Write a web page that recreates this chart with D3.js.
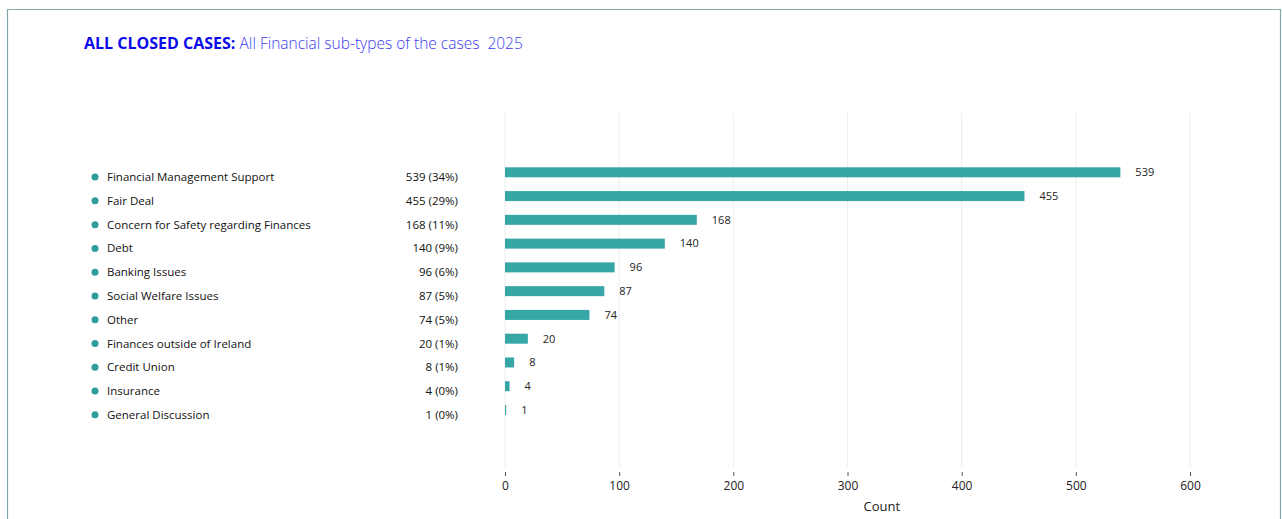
<!DOCTYPE html>
<html>
<head>
<meta charset="utf-8">
<script src="https://cdn.jsdelivr.net/npm/d3@7"></script>
<style>
  html, body { margin: 0; padding: 0; background: #fff; }
  svg { display: block; font-family: "Open Sans", "Noto Sans", sans-serif; }
</style>
</head>
<body>
<svg id="chart" width="1282" height="519"></svg>
<script>
// Financial sub-types of closed cases, 2025
const categories = [
  "Financial Management Support",
  "Fair Deal",
  "Concern for Safety regarding Finances",
  "Debt",
  "Banking Issues",
  "Social Welfare Issues",
  "Other",
  "Finances outside of Ireland",
  "Credit Union",
  "Insurance",
  "General Discussion"
];
const counts = [539, 455, 168, 140, 96, 87, 74, 20, 8, 4, 1];
const xTicks = [0, 100, 200, 300, 400, 500, 600];

const data = categories.map((c, i) => ({ name: c, value: counts[i] }));
const total = d3.sum(counts);

const svg = d3.select("#chart");
const teal = "#37a6a6";

// outer frame
svg.append("path")
  .attr("d", "M7.5,530 V9.5 H1280.5 V530")
  .attr("fill", "none")
  .attr("stroke", "#7fa9aa")
  .attr("stroke-width", 1.2);

// title
const title = svg.append("text").attr("x", 84).attr("y", 49)
  .style("white-space", "pre");
title.append("tspan").attr("fill", "#0a0aeb").attr("font-weight", 700)
  .style("font-size", "16px").text("ALL CLOSED CASES: ");
title.append("tspan").attr("fill", "#3c3cf2").attr("font-weight", 300)
  .style("font-size", "15.5px").text("All Financial sub-types of the cases  2025");

// scales
const x = d3.scaleLinear().domain([0, 600]).range([505, 1190]);
const y = d3.scalePoint().domain(categories).range([172.3, 410]);
const barH = 10;

// grid lines
svg.append("g").selectAll("line").data(xTicks).join("line")
  .attr("x1", d => x(d)).attr("x2", d => x(d))
  .attr("y1", 113).attr("y2", 467)
  .attr("stroke", "#ececec").attr("stroke-width", 1);

// x axis
const axis = svg.append("g")
  .attr("transform", "translate(0,472)")
  .call(d3.axisBottom(x).tickValues(xTicks).tickSize(4).tickPadding(5).tickFormat(d3.format("d")));
axis.select(".domain").remove();
axis.selectAll(".tick line").attr("stroke", "#555");
axis.selectAll(".tick text").attr("fill", "#222").style("font-size", "12px").style("font-family", "'Open Sans', sans-serif");

svg.append("text")
  .attr("x", x(330)).attr("y", 511)
  .attr("text-anchor", "middle")
  .attr("fill", "#222")
  .style("font-size", "13px")
  .text("Count");

// bars
svg.append("g").selectAll("rect").data(data).join("rect")
  .attr("x", x(0))
  .attr("y", d => y(d.name) - barH / 2)
  .attr("width", d => Math.max(1, x(d.value) - x(0)))
  .attr("height", barH)
  .attr("fill", teal);

// value labels beside bars
svg.append("g").selectAll("text").data(data).join("text")
  .attr("x", d => x(d.value) + 15)
  .attr("y", d => y(d.name))
  .attr("dy", "0.35em")
  .attr("fill", "#222")
  .style("font-size", "11px")
  .text(d => d.value);

// legend list on the left
const legend = svg.append("g").selectAll("g").data(data).join("g")
  .attr("transform", d => `translate(0,${y(d.name) + 4.8})`);

legend.append("circle").attr("cx", 95).attr("cy", 0).attr("r", 3.5).attr("fill", "#2f9c9c");
legend.append("text")
  .attr("x", 107).attr("dy", "0.35em")
  .attr("fill", "#111")
  .style("font-size", "11.5px")
  .text(d => d.name);
legend.append("text")
  .attr("x", 458).attr("dy", "0.35em")
  .attr("text-anchor", "end")
  .attr("fill", "#111")
  .style("font-size", "11.5px")
  .text(d => `${d.value} (${Math.round(d.value / total * 100)}%)`);
</script>
</body>
</html>
